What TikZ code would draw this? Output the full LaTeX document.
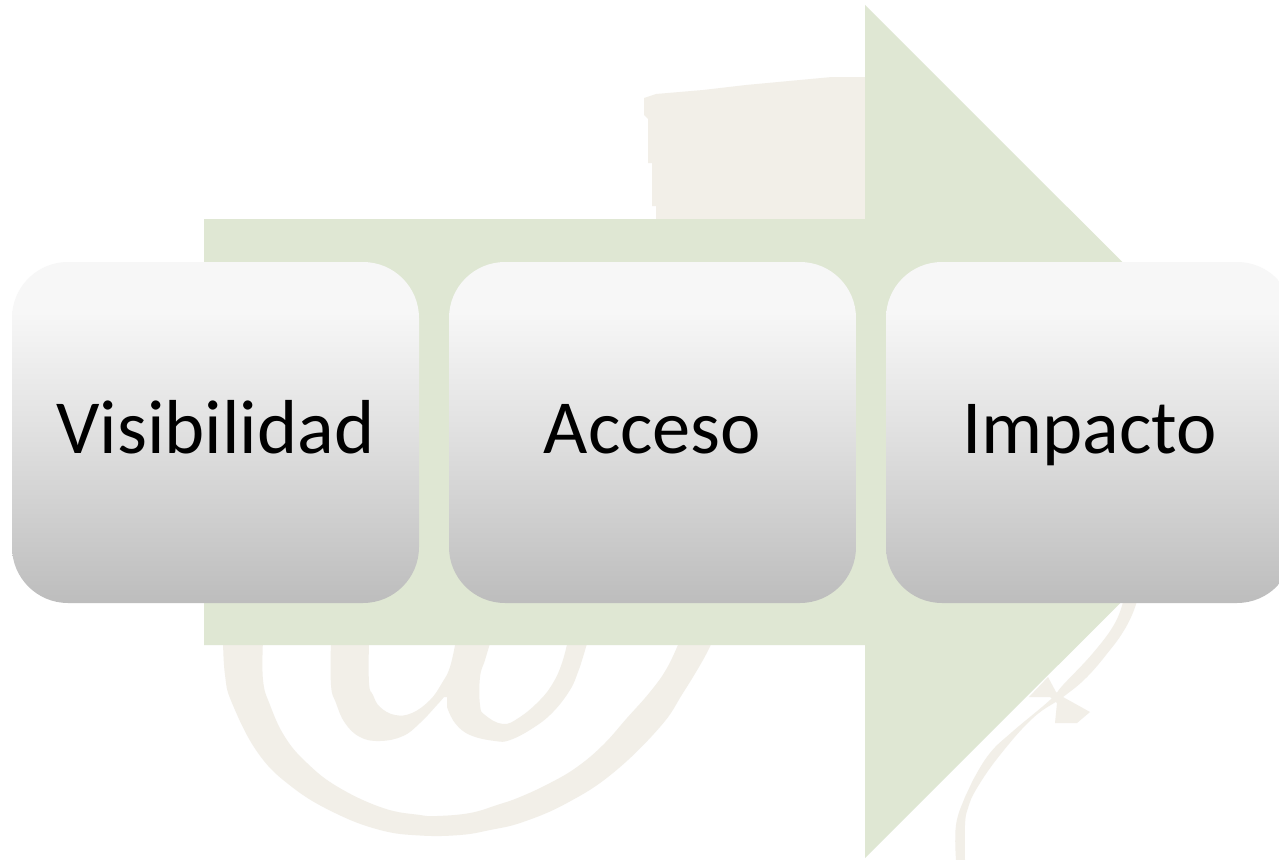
\documentclass[tikz,border=0pt]{standalone}
\usepackage{fontspec}
\setmainfont{Carlito}
\definecolor{arrowgreen}{HTML}{DFE7D3}
\definecolor{markbeige}{HTML}{F2EFE8}
\pgfdeclareverticalshading{boxgrad}{100bp}{
  color(0bp)=(black!26!white);
  color(25bp)=(black!26!white);
  color(50bp)=(black!12!white);
  color(68bp)=(black!3!white);
  color(75bp)=(black!3!white);
  color(100bp)=(black!3!white)}
\tikzset{
  markshape/.style={fill=markbeige,draw=none},
  bigarrow/.style={fill=arrowgreen,draw=none},
  gradbox/.style={rectangle,draw=none,rounded corners=56pt,shading=boxgrad,
    minimum width=407pt,minimum height=341pt,inner sep=0pt,
    text height=55pt,text depth=14pt,text=black,
    font=\fontsize{76.5}{90}\selectfont}
}
\begin{document}
\begin{tikzpicture}[x=1pt,y=-1pt]
\path[use as bounding box,clip] (0,0) rectangle (1279,859);
\fill[white] (0,0) rectangle (1279,859);
% watermark: top patch
\path[markshape] (656,225) -- (656,206) -- (652,206) -- (652,163) -- (648,163) -- (648,119)
  -- (644,115) -- (644,98) -- (656,94) -- (703,90) -- (746,85) -- (789,81) -- (832,77)
  -- (870,77) -- (870,225) -- cycle;
% watermark: outer swoosh
\path[markshape] plot[smooth,tension=.7] coordinates {(223,640) (225,675) (232,703) (258,753)
  (292,787) (335,813) (380,830) (420,835.5) (460,835) (490,830) (523,822) (567,803)
  (613,773) (660,727) (683,693) (703,660) (713,640)}
  -- plot[smooth,tension=.7] coordinates {(680,640) (667,668) (650,692) (627,718) (603,745) (577,767)
  (550,783) (520,797) (497,805) (470,813) (437,816) (420,815) (383,808) (338,787)
  (307,763) (285,737) (270,705) (263,680) (263,640)} -- cycle;
% watermark: inner w
\path[markshape] plot[smooth,tension=.7] coordinates {(331,640) (331,685) (336,703) (345,723) (360,737)
  (380,741) (403,736) (420,723) (437,705) (444,697)}
  -- (447,697) -- plot[smooth,tension=.7] coordinates {(447,707) (455,723) (470,735)
  (495,741) (510,740) (533,728) (553,712) (570,690) (578,672) (583,657) (588,640)}
  -- plot[smooth,tension=.7] coordinates {(568,640) (562,663) (553,683) (540,700) (520,717)
  (503,724) (485,715) (480,705) (480,677) (485,660) (491,640)}
  -- plot[smooth,tension=.7] coordinates {(456,640) (450,667) (442,683) (430,700)
  (412,713) (395,715) (380,707) (373,695) (369,683) (369,640)} -- cycle;
% watermark: right strokes
\path[markshape] plot[smooth,tension=.7] coordinates {(1138,598) (1132,615) (1123,632) (1110,650) (1087,677)
  (1063,697) (1033,718) (1000,755) (977,788) (968,808) (965,825) (965,860)}
  -- plot[smooth,tension=.7] coordinates {(956,860) (956,825) (965,797) (973,780) (990,753) (1012,732) (1050,700)
  (1063,685) (1093,653) (1115,623) (1124,598)} -- cycle;
\path[markshape] (1029,697) -- (1048,677) -- (1056,692) -- (1063,697) -- (1090,712) -- (1077,723)
  -- (1055,723) -- (1057,703) -- (1050,697) -- cycle;
% big arrow
\path[bigarrow] (204,219) -- (865,219) -- (865,5) -- (1292,431.5) -- (865,858) -- (865,645)
  -- (204,645) -- cycle;
% boxes
\node[gradbox] (vis) at (215.5,432.5) {Visibilidad};
\node[gradbox] (acc) at (652.5,432.5) {Acceso};
\node[gradbox] (imp) at (1089.5,432.5) {Impacto};
\end{tikzpicture}
\end{document}
